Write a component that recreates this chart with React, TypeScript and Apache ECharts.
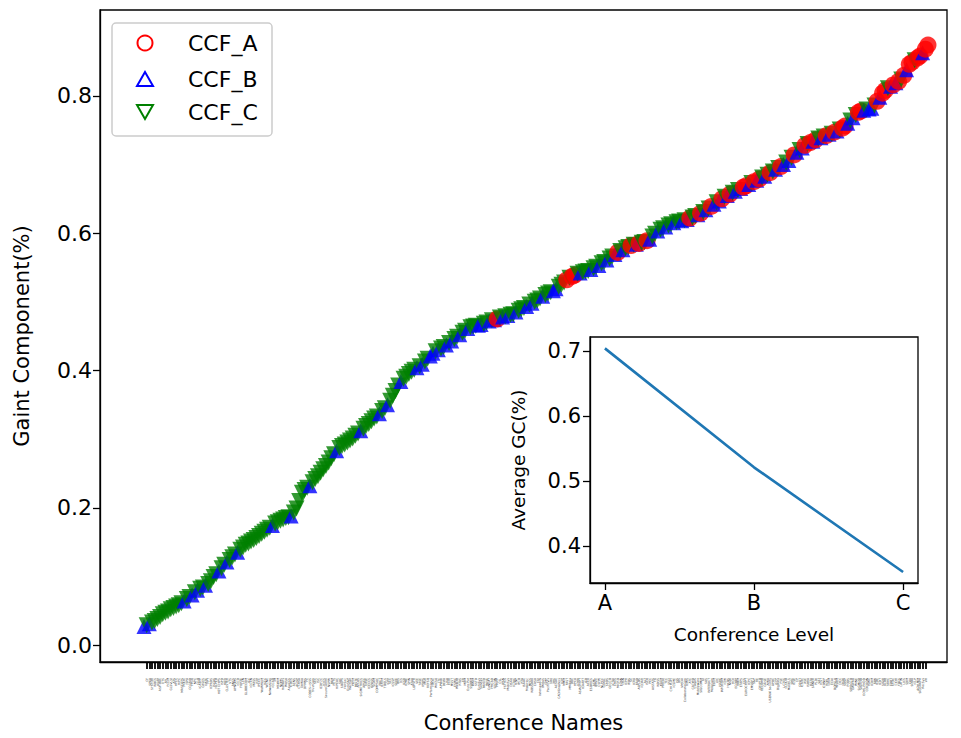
import React, { useEffect, useRef } from "react";
import * as echarts from "echarts";

// Giant-component share of each conference, sorted ascending (one entry per conference).
const gcValues = [
  0.027, 0.029, 0.031, 0.033, 0.035, 0.038, 0.041, 0.045, 0.047, 0.049,
  0.052, 0.054, 0.056, 0.058, 0.061, 0.064, 0.067, 0.070, 0.073, 0.077,
  0.080, 0.082, 0.084, 0.087, 0.089, 0.093, 0.099, 0.103, 0.108, 0.112,
  0.117, 0.121, 0.124, 0.128, 0.132, 0.135, 0.139, 0.142, 0.146, 0.148,
  0.151, 0.153, 0.156, 0.159, 0.162, 0.165, 0.168, 0.171, 0.174, 0.177,
  0.179, 0.181, 0.183, 0.185, 0.186, 0.188, 0.193, 0.199, 0.210, 0.222,
  0.226, 0.229, 0.232, 0.237, 0.242, 0.246, 0.251, 0.256, 0.261, 0.266,
  0.272, 0.278, 0.283, 0.287, 0.290, 0.292, 0.295, 0.298, 0.301, 0.305,
  0.308, 0.312, 0.315, 0.319, 0.322, 0.326, 0.330, 0.333, 0.337, 0.341,
  0.345, 0.350, 0.356, 0.363, 0.370, 0.378, 0.384, 0.388, 0.391, 0.395,
  0.398, 0.401, 0.404, 0.406, 0.409, 0.413, 0.417, 0.421, 0.425, 0.428,
  0.430, 0.432, 0.434, 0.437, 0.440, 0.443, 0.446, 0.449, 0.452, 0.455,
  0.458, 0.461, 0.463, 0.464, 0.465, 0.466, 0.467, 0.468, 0.470, 0.472,
  0.473, 0.474, 0.475, 0.477, 0.478, 0.479, 0.480, 0.481, 0.482, 0.485,
  0.487, 0.489, 0.491, 0.493, 0.496, 0.498, 0.500, 0.502, 0.505, 0.508,
  0.510, 0.512, 0.514, 0.516, 0.519, 0.522, 0.525, 0.528, 0.532, 0.535,
  0.537, 0.539, 0.541, 0.542, 0.543, 0.544, 0.545, 0.547, 0.549, 0.551,
  0.553, 0.556, 0.558, 0.561, 0.563, 0.566, 0.569, 0.572, 0.574, 0.576,
  0.578, 0.580, 0.582, 0.583, 0.584, 0.585, 0.586, 0.587, 0.589, 0.591,
  0.595, 0.599, 0.603, 0.605, 0.607, 0.609, 0.611, 0.613, 0.615, 0.616,
  0.617, 0.618, 0.619, 0.620, 0.622, 0.623, 0.625, 0.627, 0.629, 0.631,
  0.634, 0.636, 0.639, 0.642, 0.645, 0.647, 0.650, 0.653, 0.655, 0.657,
  0.659, 0.661, 0.663, 0.665, 0.667, 0.669, 0.671, 0.673, 0.675, 0.677,
  0.679, 0.681, 0.683, 0.685, 0.688, 0.690, 0.693, 0.695, 0.697, 0.700,
  0.703, 0.706, 0.710, 0.714, 0.718, 0.721, 0.724, 0.728, 0.730, 0.732,
  0.734, 0.736, 0.738, 0.739, 0.741, 0.742, 0.744, 0.745, 0.747, 0.749,
  0.751, 0.753, 0.756, 0.760, 0.764, 0.768, 0.772, 0.776, 0.778, 0.779,
  0.780, 0.781, 0.782, 0.786, 0.792, 0.798, 0.804, 0.808, 0.811, 0.814,
  0.816, 0.819, 0.821, 0.824, 0.830, 0.838, 0.846, 0.849, 0.852, 0.855,
  0.858, 0.863, 0.868, 0.874,
];

// CCF level of each conference above, in the same order.
const levelSeq = [
  "BCBCCCCCCC", "CCCCCBCCBC", "BCCBCCCCBC", "CBCCCBCCCC", "CCCCCCCCBC",
  "CCCCCBCCCC", "CCBCCCCCCC", "CCBCCCCCCC", "CBCCCCCCBC", "CBCCCCBCCC",
  "CCBCBCCBBC", "BCCBCBCCBC", "CBCCCBBCCB", "CBACBCBCCB", "CCCBCBCCCB",
  "CCCBBCCCAC", "AACBCCCBCC", "BCCBCCBACB", "CCACBACCAB", "CCBCCBCCBC",
  "CBCBACCBAC", "BCABCBACBA", "CBCBAABCAB", "ACBCACBCAB", "CBCABCBACA",
  "BACBCABCAB", "CAABCBCAAB", "CBBCABAACB", "ABACABAACA", "ABAA",
].join("");

const confA = [
  "PPoPP", "FAST", "DAC", "HPCA", "MICRO", "SC", "ASPLOS", "ISCA", "ATC", "SIGCOMM",
  "MobiCom", "INFOCOM", "NSDI", "CCS", "EUROCRYPT", "S&P", "CRYPTO", "USENIX Security", "FSE", "ICSE",
  "ASE", "ISSTA", "PLDI", "POPL", "OOPSLA", "OSDI", "SOSP", "SIGMOD", "SIGKDD", "ICDE",
  "SIGIR", "VLDB", "STOC", "FOCS", "LICS", "CAV", "SODA", "ACM MM", "SIGGRAPH", "VR",
  "VIS", "AAAI", "NeurIPS", "ACL", "CVPR", "ICCV", "ICML", "IJCAI", "CSCW", "CHI",
  "UbiComp", "WWW", "RTSS",
];

const confB = [
  "SoCC", "SPAA", "PODC", "FPGA", "CGO", "DATE", "HOT CHIPS", "CLUSTER", "ICCD", "ICCAD",
  "ICDCS", "CODES+ISSS", "HiPEAC", "SIGMETRICS", "PACT", "ICPP", "ICS", "VEE", "IPDPS", "Performance",
  "HPDC", "ITC", "LISA", "MSST", "RTAS", "Euro-Par", "EuroSys", "SenSys", "CoNEXT", "SECON",
  "IPSN", "MobiSys", "ICNP", "MobiHoc", "NOSSDAV", "IWQoS", "IMC", "ACSAC", "ASIACRYPT", "ESORICS",
  "CSFW", "SRDS", "CHES", "DSN", "RAID", "PKC", "NDSS", "TCC", "ICSME", "VMCAI",
  "ICWS", "Middleware", "SAS", "ESEM", "ISSRE", "HotOS", "ECOOP", "ETAPS", "ICPC", "RE",
  "CAiSE", "ICFP", "LCTES", "MoDELS", "CP", "ICSOC", "SANER", "ICST", "CIKM", "WSDM",
  "PODS", "DASFAA", "ECML-PKDD", "ISWC", "ICDM", "ICDT", "EDBT", "CIDR", "SDM", "RecSys",
  "SoCG", "ESA", "CCC", "ICALP", "CONCUR", "HSCC", "ISSAC", "SGP", "EGSR", "ICASSP",
  "ICME", "ISMAR", "COLT", "NAACL", "ECCV",
];

const confC = [
  "CF", "SYSTOR", "NOCS", "ASAP", "ASP-DAC", "ETS", "FPL", "FCCM", "GLSVLSI", "ATS",
  "HPCC", "HiPC", "MASCOTS", "ISPA", "CCGRID", "NPC", "ICA3PP", "CASES", "FPT", "ICPADS",
  "ISCAS", "ISLPED", "ISPD", "HOTI", "VTS", "ANCS", "APNOMS", "FORTE", "LCN", "GLOBECOM",
  "ICC", "ICCCN", "MASS", "P2P", "IPCCC", "WoWMoM", "ISCC", "WCNC", "Networking", "IM",
  "MSWiM", "NOMS", "HotNets", "WASA", "AsiaCCS", "ACNS", "ACISP", "CT-RSA", "DIMVA", "DFRWS",
  "FC", "TrustCom", "SEC", "ISC", "ICDF2C", "ICICS", "SecureComm", "NSPW", "PAM", "PETS",
  "SAC", "SOUPS", "HotSec", "EuroS&P", "Inscrypt", "PEPM", "PASTE", "APLAS", "APSEC", "EASE",
  "ICECCS", "ISPASS", "SCAM", "COMPSAC", "ICFEM", "TOOLS", "SCC", "ICSSP", "SEKE", "QRS",
  "ICSR", "ICWE", "SPIN", "ATVA", "LOPSTR", "TASE", "MSR", "REFSQ", "WICSA", "APWeb",
  "DEXA", "ECIR", "ESWC", "WebDB", "ER", "MDM", "SSDBM", "WAIM", "SSTD", "PAKDD",
  "WISE", "FMCAD", "CSL", "FSTTCS", "DSAA", "ICTAC", "IPCO", "RTA", "ISAAC", "MFCS",
  "CASA", "CGI", "Interspeech", "GMP", "PacificVis", "3DV", "CAD/Graphics", "ICIP", "MMM", "MMAsia",
  "ICMR", "ICAART", "ICB", "ACCV", "ACML", "BMVC", "NLPCC", "CoNLL", "GECCO", "ICTAI",
  "IJCNN", "ICPR", "IROS", "ICRA", "ICDAR", "ALT", "AISTATS", "FG", "KSEM", "PRICAI",
  "SSCI", "CHI PLAY", "ISS", "DIS", "CollaborateCom", "CSCWD", "CoopIS", "GI", "INTERACT", "UIC",
  "ICMI", "HCII", "BIBM", "EMSOFT", "RECOMB", "AMIA", "APBC", "BigData", "CLOUD", "SMC",
  "COSIT", "ISBRA", "SAT", "ICONIP", "ECAI", "DCC", "SIROCCO", "WINE", "COCOON", "FAW",
  "TAMC", "LATIN", "ICLP", "FM", "VRST", "ICVRV", "DocEng", "WI", "ICEBE", "SCN",
];

// Inset: mean giant-component share per level.
const levelLabels = ["A", "B", "C"];
const avgGC = [0.704, 0.521, 0.36];

const mainYTicks = [0, 0.2, 0.4, 0.6, 0.8];
const insetYTicks = [0.4, 0.5, 0.6, 0.7];

const FONT = "DejaVu Sans";
const RED = "#ff0000";
const BLUE = "#0000ff";
const GREEN = "#008000";
const DOWN_TRIANGLE = "path://M-1,-1 L1,-1 L0,1 Z";

export default function App() {
  const ref = useRef<HTMLDivElement>(null);

  useEffect(() => {
    if (!ref.current) return;
    const chart = echarts.init(ref.current, undefined, { renderer: "svg" });

    const pools: Record<string, string[]> = { A: confA, B: confB, C: confC };
    const used: Record<string, number> = { A: 0, B: 0, C: 0 };
    const names: string[] = [];
    const points: any[] = [];
    gcValues.forEach((v, i) => {
      const lv = levelSeq[i];
      names.push(pools[lv][used[lv]++] ?? "");
      const style =
        lv === "A"
          ? { symbol: "circle", symbolSize: 17, itemStyle: { color: RED } }
          : lv === "B"
          ? { symbol: "triangle", symbolSize: 15, itemStyle: { color: BLUE } }
          : { symbol: DOWN_TRIANGLE, symbolSize: 16, itemStyle: { color: GREEN } };
      points.push({ value: [i, v], ...style });
    });
    const xIdx = gcValues.map((_, i) => i);

    const tickText = { color: "#000", fontFamily: FONT };

    chart.setOption({
      animation: false,
      backgroundColor: "#fff",
      grid: [
        {
          left: 100, top: 10, width: 847, height: 653,
          show: true, borderColor: "#000", borderWidth: 1.3, backgroundColor: "transparent",
        },
        {
          left: 590, top: 337, width: 328, height: 246,
          show: true, borderColor: "#000", borderWidth: 1.3, backgroundColor: "#fff", z: 5,
        },
      ],
      xAxis: [
        {
          type: "value", gridIndex: 0, min: -16.44, max: 300.1,
          name: "Conference Names", nameLocation: "middle", nameGap: 50,
          nameTextStyle: { fontSize: 21, ...tickText },
          axisLine: { show: true, onZero: false, lineStyle: { color: "#000", width: 1.3 } },
          axisTick: { show: true, length: 7, customValues: xIdx, lineStyle: { color: "#000", width: 1.8 } },
          axisLabel: {
            show: true, customValues: xIdx, rotate: 90, fontSize: 3, margin: 16,
            color: "#333", fontFamily: FONT,
            formatter: (v: number) => names[Math.round(v)] ?? "",
          },
          splitLine: { show: false },
        },
        {
          type: "value", gridIndex: 1, min: -0.1, max: 2.1,
          name: "Conference Level", nameLocation: "middle", nameGap: 42,
          nameTextStyle: { fontSize: 18.5, ...tickText },
          axisLine: { show: true, onZero: false, lineStyle: { color: "#000", width: 1.3 } },
          axisTick: { show: true, length: 7, customValues: [0, 1, 2], lineStyle: { color: "#000", width: 1.3 } },
          axisLabel: {
            show: true, customValues: [0, 1, 2], fontSize: 21, margin: 9, ...tickText,
            formatter: (v: number) => levelLabels[Math.round(v)] ?? "",
          },
          splitLine: { show: false },
          z: 6,
        },
      ],
      yAxis: [
        {
          type: "value", gridIndex: 0, min: -0.0247, max: 0.9251,
          name: "Gaint Component(%)", nameLocation: "middle", nameGap: 68,
          nameTextStyle: { fontSize: 21, ...tickText },
          axisLine: { show: true, onZero: false, lineStyle: { color: "#000", width: 1.3 } },
          axisTick: { show: true, length: 7, customValues: mainYTicks, lineStyle: { color: "#000", width: 1.3 } },
          axisLabel: {
            show: true, customValues: mainYTicks, fontSize: 22, margin: 8, ...tickText,
            formatter: (v: number) => v.toFixed(1),
          },
          splitLine: { show: false },
        },
        {
          type: "value", gridIndex: 1, min: 0.3431, max: 0.7215,
          name: "Average GC(%)", nameLocation: "middle", nameGap: 62,
          nameTextStyle: { fontSize: 18.5, ...tickText },
          axisLine: { show: true, onZero: false, lineStyle: { color: "#000", width: 1.3 } },
          axisTick: { show: true, length: 7, customValues: insetYTicks, lineStyle: { color: "#000", width: 1.3 } },
          axisLabel: {
            show: true, customValues: insetYTicks, fontSize: 21, margin: 9, ...tickText,
            formatter: (v: number) => v.toFixed(1),
          },
          splitLine: { show: false },
          z: 6,
        },
      ],
      series: [
        {
          type: "scatter", xAxisIndex: 0, yAxisIndex: 0,
          data: points,
          clip: false,
        },
        {
          type: "line", xAxisIndex: 1, yAxisIndex: 1, z: 7,
          data: avgGC.map((v, i) => [i, v]),
          showSymbol: false,
          lineStyle: { color: "#1f77b4", width: 2.6 },
        },
      ],
      graphic: [
        {
          type: "group", z: 10,
          children: [
            {
              type: "rect", shape: { x: 112, y: 23, width: 160, height: 113, r: 4 },
              style: { fill: "rgba(255,255,255,0.85)", stroke: "#cccccc", lineWidth: 1.5 },
            },
            {
              type: "circle", shape: { cx: 145, cy: 43, r: 7.5 },
              style: { fill: "none", stroke: RED, lineWidth: 2 },
            },
            {
              type: "polygon", shape: { points: [[145, 72], [137, 86], [153, 86]] },
              style: { fill: "none", stroke: BLUE, lineWidth: 2 },
            },
            {
              type: "polygon", shape: { points: [[137, 105], [153, 105], [145, 119]] },
              style: { fill: "none", stroke: GREEN, lineWidth: 2 },
            },
            {
              type: "text", x: 188, y: 43,
              style: { text: "CCF_A", fontSize: 22, fontFamily: FONT, fill: "#000", verticalAlign: "middle" },
            },
            {
              type: "text", x: 188, y: 79,
              style: { text: "CCF_B", fontSize: 22, fontFamily: FONT, fill: "#000", verticalAlign: "middle" },
            },
            {
              type: "text", x: 188, y: 112,
              style: { text: "CCF_C", fontSize: 22, fontFamily: FONT, fill: "#000", verticalAlign: "middle" },
            },
          ],
        },
      ],
    });

    return () => chart.dispose();
  }, []);

  return (
    <div
      ref={ref}
      style={{ position: "fixed", left: 0, top: 0, width: 961, height: 738, background: "#fff" }}
    />
  );
}
